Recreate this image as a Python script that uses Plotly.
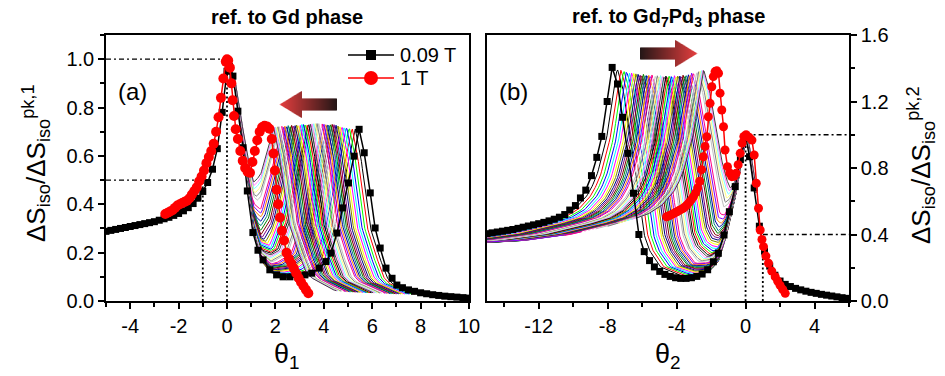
import numpy as np
import plotly.graph_objects as go

# ---------------- data ----------------
# panel (a): reference to Gd phase
theta1_009T = [-5.0, -4.8, -4.6, -4.4, -4.2, -4.0, -3.8, -3.6, -3.4, -3.2, -3.0, -2.8, -2.6, -2.4, -2.2, -2.0,
               -1.8, -1.6, -1.4, -1.2, -1.0, -0.8, -0.6, -0.4, -0.2, 0.0, 0.1, 0.245, 0.45, 0.66, 0.84, 1.07,
               1.28, 1.49, 1.77, 2.05, 2.32, 2.6, 2.94, 3.22, 3.5, 3.81, 4.09, 4.3, 4.54, 4.78, 5.02, 5.25,
               5.46, 5.67, 5.92, 6.12, 6.33, 6.57, 6.82, 7.02, 7.25, 7.5, 7.75, 8.0, 8.25, 8.5, 8.75, 9.0,
               9.25, 9.5, 9.75, 10.0]
s1_009T = [0.288, 0.292, 0.296, 0.300, 0.304, 0.308, 0.312, 0.316, 0.320, 0.324, 0.328, 0.334, 0.340, 0.346,
           0.354, 0.362, 0.373, 0.386, 0.403, 0.425, 0.453, 0.49, 0.545, 0.63, 0.78, 0.95, 0.97, 0.93, 0.785,
           0.634, 0.455, 0.283, 0.21, 0.17, 0.129, 0.108, 0.10, 0.10, 0.098, 0.108, 0.115, 0.136, 0.163, 0.198,
           0.281, 0.385, 0.488, 0.599, 0.71, 0.613, 0.447, 0.302, 0.219, 0.136, 0.094, 0.066, 0.055, 0.046,
           0.04, 0.034, 0.03, 0.026, 0.023, 0.02, 0.018, 0.016, 0.014, 0.012]
theta1_1T = [-2.55, -2.45, -2.35, -2.25, -2.15, -2.05, -1.95, -1.85, -1.75, -1.65, -1.55, -1.45, -1.35, -1.25,
             -1.15, -1.05, -0.95, -0.85, -0.75, -0.65, -0.55, -0.45, -0.35, -0.25, -0.15, -0.05, 0.0, 0.05,
             0.12, 0.18, 0.23, 0.29, 0.36, 0.45, 0.55, 0.65, 0.75, 0.85, 0.95, 1.05, 1.15, 1.25, 1.35, 1.45,
             1.55, 1.65, 1.75, 1.85, 1.92, 1.98, 2.05, 2.12, 2.19, 2.27, 2.36, 2.46, 2.56, 2.66, 2.76, 2.86,
             2.96, 3.06, 3.16, 3.26, 3.36]
s1_1T = [0.36, 0.365, 0.37, 0.375, 0.385, 0.395, 0.40, 0.405, 0.41, 0.415, 0.425, 0.44, 0.455, 0.47, 0.495,
         0.515, 0.54, 0.57, 0.595, 0.62, 0.65, 0.70, 0.76, 0.84, 0.92, 0.99, 1.0, 0.995, 0.965, 0.90, 0.83,
         0.765, 0.71, 0.67, 0.62, 0.58, 0.55, 0.535, 0.53, 0.575, 0.62, 0.665, 0.70, 0.718, 0.725, 0.722,
         0.712, 0.67, 0.61, 0.54, 0.46, 0.40, 0.345, 0.29, 0.25, 0.20, 0.175, 0.155, 0.135, 0.115, 0.095,
         0.078, 0.062, 0.047, 0.032]

# panel (b): reference to Gd7Pd3 phase
theta2_009T = [-15.0, -14.7, -14.4, -14.1, -13.8, -13.5, -13.2, -12.9, -12.6, -12.3, -12.0, -11.7, -11.4,
               -11.1, -10.8, -10.49, -10.2, -9.87, -9.58, -9.27, -8.94, -8.63, -8.34, -8.03, -7.74, -7.43,
               -7.13, -6.83, -6.5, -6.19, -5.88, -5.57, -5.29, -4.98, -4.68, -4.37, -4.06, -3.76, -3.45,
               -3.14, -2.83, -2.52, -2.2, -1.87, -1.58, -1.25, -0.94, -0.6, -0.3, 0.0, 0.23, 0.5, 0.8, 1.1,
               1.4, 1.7, 2.0, 2.3, 2.6, 2.9, 3.2, 3.5, 3.8, 4.1, 4.4, 4.7, 5.0, 5.3, 5.6, 5.9]
s2_009T = [0.405, 0.41, 0.415, 0.42, 0.425, 0.43, 0.437, 0.444, 0.451, 0.458, 0.465, 0.473, 0.482, 0.492,
           0.504, 0.52, 0.547, 0.574, 0.62, 0.667, 0.754, 0.864, 0.99, 1.2, 1.405, 1.305, 1.105, 0.888, 0.648,
           0.40, 0.297, 0.243, 0.205, 0.178, 0.16, 0.148, 0.14, 0.136, 0.136, 0.14, 0.148, 0.162, 0.188,
           0.236, 0.287, 0.397, 0.537, 0.688, 0.85, 0.99, 0.868, 0.68, 0.45, 0.30, 0.21, 0.155, 0.12, 0.10,
           0.087, 0.076, 0.067, 0.059, 0.052, 0.046, 0.04, 0.035, 0.03, 0.025, 0.02, 0.016]
theta2_1T = [-4.58, -4.46, -4.34, -4.22, -4.10, -3.98, -3.86, -3.74, -3.62, -3.50, -3.38, -3.26, -3.14, -3.02,
             -2.90, -2.78, -2.66, -2.55, -2.45, -2.35, -2.25, -2.16, -2.06, -1.96, -1.87, -1.77, -1.67, -1.57,
             -1.48, -1.38, -1.28, -1.19, -1.05, -0.92, -0.80, -0.67, -0.55, -0.43, -0.31, -0.20, -0.10, 0.03,
             0.20, 0.37, 0.50, 0.62, 0.75, 0.85, 0.95, 1.04, 1.18, 1.33, 1.52, 1.72, 1.86, 2.0, 2.15, 2.3]
s2_1T = [0.507, 0.512, 0.518, 0.524, 0.53, 0.537, 0.544, 0.551, 0.558, 0.568, 0.58, 0.595, 0.61, 0.628, 0.65,
         0.68, 0.72, 0.79, 0.868, 0.93, 0.988, 1.108, 1.189, 1.289, 1.35, 1.38, 1.385, 1.37, 1.25, 1.149,
         1.048, 0.908, 0.808, 0.77, 0.748, 0.75, 0.768, 0.82, 0.888, 0.95, 0.99, 1.0, 0.985, 0.968, 0.878,
         0.708, 0.558, 0.427, 0.37, 0.327, 0.27, 0.227, 0.18, 0.146, 0.12, 0.095, 0.07, 0.046]

assert len(theta1_009T) == len(s1_009T) and len(theta1_1T) == len(s1_1T)
assert len(theta2_009T) == len(s2_009T) and len(theta2_1T) == len(s2_1T)

# intermediate-field family: main-peak branch, second-peak profile, read-off peak positions & tops
mainpk_a_x = [0.0, 0.1, 0.3, 0.5, 0.7, 0.9, 1.1, 1.4, 1.8, 2.5, 3.0, 4.0, 5.0, 7.0, 10.0]
mainpk_a_y = [0.98, 0.97, 0.92, 0.79, 0.62, 0.45, 0.27, 0.14, 0.08, 0.05, 0.04, 0.02, 0.01, 0.0, 0.0]
secpk_a_dx = [-6.0, -4.0, -3.0, -2.5, -1.9, -1.28, -0.89, -0.69, -0.46, -0.22, 0.0, 0.21, 0.42, 0.64, 0.88,
              1.3, 1.52, 2.5, 3.5, 5.0]
secpk_a_y = [0.0, 0.03, 0.05, 0.06, 0.09, 0.15, 0.27, 0.37, 0.48, 0.59, 0.70, 0.60, 0.44, 0.29, 0.21, 0.095,
             0.07, 0.03, 0.015, 0.005]
family_a_peak = [5.30, 5.17, 5.05, 4.94, 4.84, 4.75, 4.66, 4.58, 4.50, 4.42, 4.35, 4.28, 4.21, 4.14, 4.07,
                 4.00, 3.93, 3.86, 3.79, 3.72, 3.65, 3.58, 3.51, 3.44, 3.37, 3.30, 3.23, 3.16, 3.09, 3.02,
                 2.95, 2.88, 2.81, 2.74, 2.67, 2.60, 2.53, 2.46, 2.39, 2.33, 2.27, 2.21, 2.15, 2.10, 2.05,
                 2.00, 1.96, 1.92]
env_a_x = [1.9, 2.5, 3.0, 3.5, 4.0, 4.5, 5.0, 5.4]
env_a_y = [0.72, 0.725, 0.73, 0.735, 0.735, 0.73, 0.72, 0.71]

mainpk_b_x = [-15, -8, -6, -4, -3, -2.5, -2.0, -1.58, -1.25, -0.94, -0.6, -0.3, 0.0, 0.1, 0.3, 0.5, 0.75,
              1.0, 1.3, 1.6, 2.2, 3.0, 4.1, 5.0, 6.0]
mainpk_b_y = [0.0, 0.0, 0.01, 0.03, 0.05, 0.08, 0.12, 0.18, 0.29, 0.43, 0.60, 0.79, 0.98, 1.0, 0.87, 0.70,
              0.53, 0.40, 0.28, 0.20, 0.11, 0.07, 0.045, 0.03, 0.016]
secpk_b_dx = [-14, -10, -7.3, -5.2, -3.3, -2.5, -1.85, -1.55, -1.2, -0.9, -0.6, -0.3, 0.0, 0.3, 0.6, 0.9,
              1.24, 1.55, 1.85, 2.2, 2.5, 3.2, 4.1, 5.0, 6.0, 8.0, 10.0]
secpk_b_y = [0.35, 0.365, 0.40, 0.45, 0.505, 0.55, 0.62, 0.67, 0.75, 0.86, 0.99, 1.2, 1.405, 1.305, 1.105,
             0.89, 0.65, 0.40, 0.30, 0.24, 0.19, 0.15, 0.10, 0.085, 0.07, 0.05, 0.04]
family_b_peak = [-7.45, -7.25, -7.07, -6.91, -6.76, -6.62, -6.49, -6.37, -6.25, -6.14, -6.03, -5.93, -5.83,
                 -5.73, -5.63, -5.53, -5.43, -5.33, -5.23, -5.13, -5.03, -4.93, -4.83, -4.73, -4.63, -4.53,
                 -4.43, -4.33, -4.23, -4.13, -4.03, -3.93, -3.83, -3.73, -3.63, -3.53, -3.43, -3.33, -3.23,
                 -3.13, -3.03, -2.93, -2.83, -2.73, -2.64, -2.56, -2.49, -2.43]
family_b_start = [-15.5] * 40 + [-10.5, -9.5, -8.7, -8.0, -7.4, -6.9, -6.6, -6.3]
env_b_x = [-7.45, -6.5, -5.5, -4.5, -3.5, -3.0, -2.43]
env_b_y = [1.40, 1.37, 1.36, 1.355, 1.36, 1.375, 1.39]

# reference guide lines (data coordinates)
guides_a_h = [(-5, 0, 1.0), (-5, -1, 0.5)]
guides_a_v = [(0, 1.0), (-1, 0.5)]
guides_b_h = [(0, 6, 1.0), (1, 6, 0.4)]
guides_b_v = [(0, 1.0), (1, 0.4)]

legend_labels = ["0.09 T", "1 T"]

origin_colors = ["#000000", "#FF0000", "#00FF00", "#0000FF", "#00FFFF", "#FF00FF", "#FFFF00", "#808000",
                 "#000080", "#800080", "#800000", "#008000", "#008080", "#0000A0", "#FF8000", "#8000FF",
                 "#FF0080", "#FFFFFF", "#C0C0C0", "#808080", "#FFFF80", "#80FFFF", "#FF80FF", "#404040"]

FONT = "Liberation Sans, Arial, sans-serif"
W, H = 945, 376

fig = go.Figure()


def family_curve(x, L_x, L_y, T_dx, T_y, peak, top):
    L = np.interp(x, L_x, L_y)
    Tn = np.interp(x - peak, T_dx, T_y) / max(T_y)
    Lp = np.interp(peak, L_x, L_y)
    A = (top - Lp) / (1 - Lp)
    return L + A * Tn * (1 - L)


# family (a)
for i, p in enumerate(family_a_peak):
    x = np.linspace(0.0, p + 2.6, 220)
    top = np.interp(p, env_a_x, env_a_y)
    y = family_curve(x, mainpk_a_x, mainpk_a_y, secpk_a_dx, secpk_a_y, p, top)
    fig.add_trace(go.Scatter(x=x, y=y, mode="lines", line=dict(color=origin_colors[i % 24], width=1),
                             showlegend=False, hoverinfo="skip", xaxis="x", yaxis="y"))
# family (b)
for i, p in enumerate(family_b_peak):
    x = np.linspace(family_b_start[i], 0.6, 260)
    top = np.interp(p, env_b_x, env_b_y)
    y = family_curve(x, mainpk_b_x, mainpk_b_y, secpk_b_dx, secpk_b_y, p, top)
    fig.add_trace(go.Scatter(x=x, y=y, mode="lines", line=dict(color=origin_colors[i % 24], width=1),
                             showlegend=False, hoverinfo="skip", xaxis="x2", yaxis="y2"))

# measured curves
fig.add_trace(go.Scatter(x=theta1_009T, y=s1_009T, mode="lines+markers", name=legend_labels[0],
                         line=dict(color="black", width=1.5),
                         marker=dict(symbol="square", size=7, color="black"), xaxis="x", yaxis="y"))
fig.add_trace(go.Scatter(x=theta1_1T, y=s1_1T, mode="lines+markers", name=legend_labels[1],
                         line=dict(color="red", width=1.5),
                         marker=dict(symbol="circle", size=10, color="red"), xaxis="x", yaxis="y"))
fig.add_trace(go.Scatter(x=theta2_009T, y=s2_009T, mode="lines+markers", showlegend=False,
                         line=dict(color="black", width=1.5),
                         marker=dict(symbol="square", size=7, color="black"), xaxis="x2", yaxis="y2"))
fig.add_trace(go.Scatter(x=theta2_1T, y=s2_1T, mode="lines+markers", showlegend=False,
                         line=dict(color="red", width=1.5),
                         marker=dict(symbol="circle", size=9, color="red"), xaxis="x2", yaxis="y2"))

shapes = []
for (xr, yr, hs, vs) in [("x", "y", guides_a_h, guides_a_v), ("x2", "y2", guides_b_h, guides_b_v)]:
    for x0, x1, yv in hs:
        shapes.append(dict(type="line", xref=xr, yref=yr, x0=x0, x1=x1, y0=yv, y1=yv, layer="below",
                           line=dict(color="black", width=1.3, dash="5px,3px,2px,3px")))
    for xv, y1 in vs:
        shapes.append(dict(type="line", xref=xr, yref=yr, x0=xv, x1=xv, y0=0, y1=y1, layer="below",
                           line=dict(color="black", width=1.8, dash="2px,2.5px")))


def P(xpix, ypix):
    return xpix / W, 1 - ypix / H


def gradient_arrow(x_dark, x_tip, yc, body_h=12.0, head_h=27.0, head_len=22.0,
                   c_dark=(35, 22, 22), c_tip=(228, 62, 62)):
    d = 1 if x_tip > x_dark else -1
    length = abs(x_tip - x_dark)
    n = int(round(length))
    for i in range(n):
        t = (i + 0.5) / n
        c = tuple(int(round(c_dark[k] + (c_tip[k] - c_dark[k]) * t)) for k in range(3))
        dist = length - (i + 0.5)
        h = body_h if dist > head_len else head_h * dist / head_len
        xa = x_dark + d * i
        xb = xa + d * 1.4
        shapes.append(dict(type="rect", xref="paper", yref="paper",
                           x0=min(xa, xb) / W, x1=max(xa, xb) / W,
                           y0=1 - (yc + h / 2) / H, y1=1 - (yc - h / 2) / H,
                           line=dict(width=0), fillcolor="rgb(%d,%d,%d)" % c, layer="above"))


gradient_arrow(337, 280, 104.5)
gradient_arrow(640, 697, 53.5)

# legend key (drawn as paper-space glyphs)
leg_rows = [(55, "black", "square", 10), (78, "red", "circle", 14)]
for yc, col, sym, sz in leg_rows:
    x0, y0 = P(348, yc)
    x1, _ = P(394, yc)
    shapes.append(dict(type="line", xref="paper", yref="paper", x0=x0, x1=x1, y0=y0, y1=y0,
                       line=dict(color=col, width=1.5), layer="above"))
    a0, b0 = P(371 - sz / 2, yc + sz / 2)
    a1, b1 = P(371 + sz / 2, yc - sz / 2)
    shapes.append(dict(type="rect" if sym == "square" else "circle", xref="paper", yref="paper",
                       x0=a0, x1=a1, y0=b0, y1=b1, fillcolor=col, line=dict(width=0), layer="above"))

axis_common = dict(showline=True, linecolor="black", linewidth=1.5, mirror=True, showgrid=False,
                   zeroline=False, ticks="outside", ticklen=6, tickwidth=1.5, tickcolor="black",
                   automargin=False, tickfont=dict(family=FONT, size=20, color="black"))
inner_common = dict(showline=False, showgrid=False, zeroline=False, ticks="inside", ticklen=3,
                    tickwidth=1.2, tickcolor="black", showticklabels=False, tickmode="linear", tick0=0,
                    automargin=False)

xt_a = [-4, -2, 0, 2, 4, 6, 8, 10]
xt_b = [-12, -8, -4, 0, 4]
yt_a = [0.0, 0.2, 0.4, 0.6, 0.8, 1.0]
yt_b = [0.0, 0.4, 0.8, 1.2, 1.6]

fig.update_layout(
    width=W, height=H, margin=dict(l=0, r=0, t=0, b=0, pad=0, autoexpand=False),
    paper_bgcolor="white", plot_bgcolor="white", showlegend=False,
    font=dict(family=FONT, color="black"),
    xaxis=dict(domain=[106 / W, 469 / W], range=[-5, 10], anchor="y", tickmode="array", tickvals=xt_a,
               ticktext=[str(v) for v in xt_a],
               minor=dict(tickmode="linear", tick0=0, dtick=1, ticks="outside", ticklen=4, tickwidth=1.5,
                          tickcolor="black"), **axis_common),
    yaxis=dict(domain=[75 / H, 341 / H], range=[0, 1.1], anchor="x", tickmode="array", tickvals=yt_a,
               ticktext=["%.1f" % v for v in yt_a],
               minor=dict(tickmode="linear", tick0=0, dtick=0.1, ticks="outside", ticklen=4, tickwidth=1.5,
                          tickcolor="black"), **axis_common),
    yaxis3=dict(overlaying="y", anchor="x", side="right", range=[0, 1.1], dtick=0.1, **inner_common),
    xaxis2=dict(domain=[487 / W, 849 / W], range=[-15, 6], anchor="y2", tickmode="array", tickvals=xt_b,
                ticktext=[str(v) for v in xt_b],
                minor=dict(tickmode="linear", tick0=0, dtick=2, ticks="outside", ticklen=4, tickwidth=1.5,
                           tickcolor="black"), **axis_common),
    yaxis2=dict(domain=[75 / H, 341 / H], range=[0, 1.6], anchor="x2", side="right", tickmode="array",
                tickvals=yt_b, ticktext=["%.1f" % v for v in yt_b],
                minor=dict(tickmode="linear", tick0=0, dtick=0.2, ticks="outside", ticklen=4, tickwidth=1.5,
                           tickcolor="black"), **axis_common),
    yaxis4=dict(overlaying="y2", anchor="x2", side="left", range=[0, 1.6], dtick=0.2, **inner_common),
    shapes=shapes,
)

ann = [
    dict(text="<b>ref. to Gd phase</b>", x=287, y=17, size=20, angle=0, xa="center"),
    dict(text="<b>ref. to Gd<sub>7</sub>Pd<sub>3</sub> phase</b>", x=668, y=17, size=20, angle=0, xa="center"),
    dict(text="θ<sub>1</sub>", x=287, y=356, size=27, angle=0, xa="center"),
    dict(text="θ<sub>2</sub>", x=668, y=356, size=27, angle=0, xa="center"),
    dict(text="ΔS<sub>iso</sub>/ΔS<sub>iso</sub><sup>pk,1</sup>", x=36, y=163, size=26, angle=-90, xa="center"),
    dict(text="ΔS<sub>iso</sub>/ΔS<sub>iso</sub><sup>pk,2</sup>", x=921, y=165, size=26, angle=-90, xa="center"),
    dict(text="(a)", x=132, y=92, size=24, angle=0, xa="center"),
    dict(text="(b)", x=513, y=92, size=24, angle=0, xa="center"),
    dict(text=legend_labels[0], x=398, y=55, size=20, angle=0, xa="left"),
    dict(text=legend_labels[1], x=398, y=78, size=20, angle=0, xa="left"),
]
fig.update_layout(annotations=[
    dict(text=a["text"], x=a["x"] / W, y=1 - a["y"] / H, xref="paper", yref="paper", xanchor=a["xa"],
         yanchor="middle", showarrow=False, textangle=a["angle"],
         font=dict(family=FONT, size=a["size"], color="black"))
    for a in ann])

fig.write_html("out.html")
